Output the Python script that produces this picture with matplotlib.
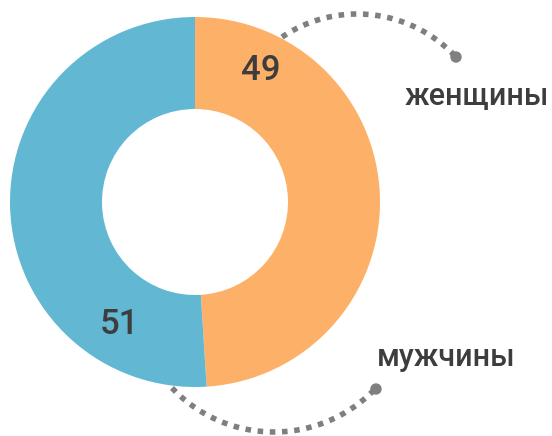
import numpy as np
import matplotlib
matplotlib.use("Agg")
import matplotlib.pyplot as plt
from matplotlib.patches import Wedge, Circle

categories = ["женщины", "мужчины"]
values = [49, 51]
colors = ["#FDB067", "#62B8D3"]

W, H = 552, 436
fig = plt.figure(figsize=(W / 100, H / 100), dpi=100)
ax = fig.add_axes([0, 0, 1, 1])
ax.set_xlim(0, W)
ax.set_ylim(0, H)
ax.set_aspect("equal")
ax.axis("off")

cx, cy = 195, H - 202
R, r = 185, 93
start = 90.0
total = sum(values)
for v, c in zip(values, colors):
    sweep = 360.0 * v / total
    w = Wedge((cx, cy), R, start - sweep, start, width=R - r, facecolor=c, edgecolor="none")
    ax.add_patch(w)
    start -= sweep

txt = "#3d3d3d"
font = ["Roboto", "DejaVu Sans"]
ax.text(261, H - 70, str(values[0]), fontsize=25, color=txt, ha="center", va="center", family=font, fontweight="medium")
ax.text(119, H - 325, str(values[1]), fontsize=25, color=txt, ha="center", va="center", family=font, fontweight="medium")

ax.text(477, H - 96, categories[0], fontsize=22, color=txt, ha="center", va="center", family=font, fontweight="medium")
ax.text(446, H - 357, categories[1], fontsize=22, color=txt, ha="center", va="center", family=font, fontweight="medium")

gray = "#7f7f7f"
def dotted_arc(hx, hy, rad, a1, a2):
    t = np.linspace(np.radians(a1), np.radians(a2), 200)
    x = hx + rad * np.cos(t)
    y = hy + rad * np.sin(t)
    ax.plot(x, y, color=gray, lw=4, linestyle=(0, (1, 1.2)), solid_capstyle="butt", dash_capstyle="butt")

# top arc
hx, hy, rad = 357.3, H - 148.7, 134.7
a1 = np.degrees(np.arctan2((H - 37) - hy, 282 - hx))
a2 = np.degrees(np.arctan2((H - 57) - hy, 456 - hx))
dotted_arc(hx, hy, rad, a1, a2)
ax.add_patch(Circle((456, H - 57), 5, color=gray))

# bottom arc
hx2, hy2, rad2 = 274, H - 291.8, 140.2
b1 = np.degrees(np.arctan2((H - 388) - hy2, 172 - hx2))
b2 = np.degrees(np.arctan2((H - 389) - hy2, 376 - hx2))
if b2 < b1:
    b2 += 360
dotted_arc(hx2, hy2, rad2, b1, b2)
ax.add_patch(Circle((376, H - 389), 5, color=gray))

fig.savefig("out.png", dpi=100)
